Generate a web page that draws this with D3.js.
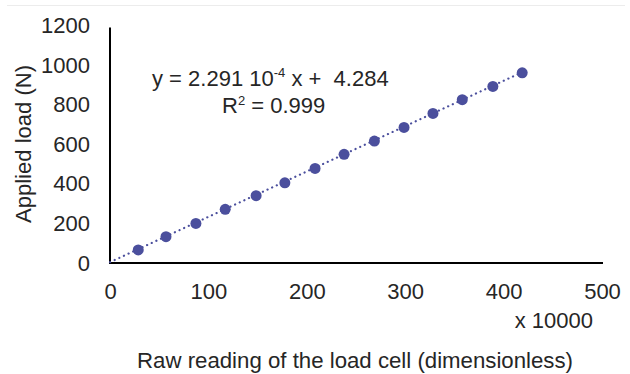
<!DOCTYPE html>
<html><head><meta charset="utf-8">
<script src="https://cdn.jsdelivr.net/npm/d3@7"></script>
<style>body{margin:0;background:#fff}svg{display:block;font-family:"Liberation Sans",Arial,sans-serif}</style>
</head><body>
<svg id="c" width="630" height="374"></svg>
<script>
const rawReading = [28.7, 56.9, 87.3, 117.1, 148.5, 177.7, 208.4, 237.9, 268.7, 298.8, 328.2, 358.0, 389.1, 418.9];
const appliedLoad = [66, 133, 200, 271, 340, 405, 478, 549, 616, 685, 756, 825, 892, 961];
const xTicks = [0, 100, 200, 300, 400, 500];
const yTicks = [0, 200, 400, 600, 800, 1000, 1200];
const slope = 2.291, intercept = 4.284;

const svg = d3.select("#c");
const x = d3.scaleLinear().domain([0, 500]).range([110, 602]);
const y = d3.scaleLinear().domain([0, 1200]).range([263, 25.5]);
const col = "#4b4f9d", txt = "#262626", fs = 22;
const ff = "Liberation Sans, Arial, sans-serif";

svg.append("line").attr("x1", 7).attr("x2", 625).attr("y1", 5.5).attr("y2", 5.5).attr("stroke", "#ececec").attr("stroke-width", 1);

const xa = svg.append("g").attr("transform", "translate(0,263)")
  .call(d3.axisBottom(x).tickValues(xTicks).tickFormat(d3.format("d")).tickSize(0).tickPadding(20));
xa.select(".domain").attr("stroke", "#000").attr("stroke-width", 2).attr("d", `M${x(0)},0H${x(500)+1}`);
xa.selectAll("text").attr("font-size", fs).attr("fill", txt).attr("font-family", ff);

const ya = svg.append("g").attr("transform", "translate(110,0)")
  .call(d3.axisLeft(y).tickValues(yTicks).tickFormat(d3.format("d")).tickSize(0).tickPadding(20));
ya.select(".domain").attr("stroke", "#000").attr("stroke-width", 2).attr("d", `M0,${y(0)+1}V${y(1200)+2}`);
ya.selectAll("text").attr("font-size", fs).attr("fill", txt).attr("font-family", ff);

// trendline
const xl = rawReading[rawReading.length-1];
svg.append("line")
  .attr("x1", x(0)).attr("y1", y(intercept))
  .attr("x2", x(xl)).attr("y2", y(slope*xl+intercept))
  .attr("stroke", col).attr("stroke-width", 2.2).attr("stroke-dasharray", "0.1 5").attr("stroke-linecap", "round");

svg.append("g").selectAll("circle").data(rawReading).join("circle")
  .attr("cx", d => x(d)).attr("cy", (d, i) => y(appliedLoad[i])).attr("r", 5.5).attr("fill", col);

// equation
const eq = svg.append("text").attr("x", 152).attr("y", 86).attr("font-size", fs).attr("fill", txt).attr("xml:space", "preserve");
eq.append("tspan").text("y = 2.291 10");
eq.append("tspan").attr("font-size", 13).attr("dy", -9).text("-4");
eq.append("tspan").attr("dy", 9).text(" x +\u00a0\u00a04.284");
const r2 = svg.append("text").attr("x", 222).attr("y", 113).attr("font-size", fs).attr("fill", txt);
r2.append("tspan").text("R");
r2.append("tspan").attr("font-size", 13).attr("dy", -8).text("2");
r2.append("tspan").attr("dy", 8).text(" = 0.999");

svg.append("text").attr("x", 593).attr("y", 328).attr("text-anchor", "end").attr("font-size", fs).attr("fill", txt).text("x 10000");
svg.append("text").attr("x", 137).attr("y", 368).attr("font-size", fs).attr("fill", txt)
  .attr("textLength", 436).attr("lengthAdjust", "spacingAndGlyphs").text("Raw reading of the load cell (dimensionless)");
svg.append("text").attr("transform", "translate(31,223) rotate(-90)").attr("font-size", fs).attr("fill", txt)
  .attr("textLength", 158).attr("lengthAdjust", "spacingAndGlyphs").text("Applied load (N)");
</script>
</body></html>
